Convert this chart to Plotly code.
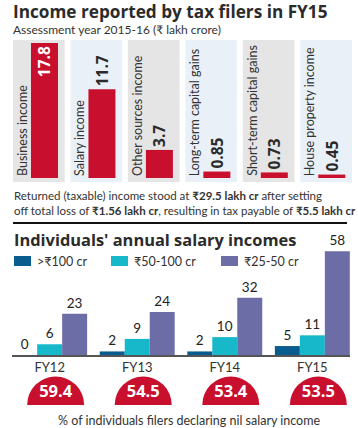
import plotly.graph_objects as go

# ---------------- data ----------------
top_categories = ["Business income", "Salary income", "Other sources income",
                  "Long-term capital gains", "Short-term capital gains", "House property income"]
top_values = [17.8, 11.7, 3.7, 0.85, 0.73, 0.45]

years = ["FY12", "FY13", "FY14", "FY15"]
series_names = [">₹100 cr", "₹50-100 cr", "₹25-50 cr"]
above_100 = [0, 2, 2, 5]
from_50_to_100 = [6, 9, 10, 11]
from_25_to_50 = [23, 24, 32, 58]
nil_salary_pct = [59.4, 54.5, 53.4, 53.5]

# ---------------- style ----------------
W, H = 358, 428
FONT = "Lato"
TFONT = "Open Sans"
DARK = "#2b2b2b"
RED = "#c8102e"
SERIES_COLORS = ["#0b5c8e", "#17b8c9", "#6c6ca6"]
PANEL_COLORS = ["#e5e5e5", "#eaf0f7"]


def px(x):
    return x / W


def py(y):
    return 1 - y / H


PANEL_BOTTOM, PANEL_TOP = -0.53, 18.2
top_idx = list(range(len(top_categories)))
yr_idx = list(range(len(years)))

fig = go.Figure()

# panel backgrounds (top chart)
fig.add_trace(go.Bar(
    x=top_idx, y=[PANEL_TOP - PANEL_BOTTOM] * len(top_idx), base=PANEL_BOTTOM,
    offset=-0.45, width=0.9,
    marker=dict(color=[PANEL_COLORS[i % 2] for i in top_idx], line_width=0),
    xaxis="x", yaxis="y", showlegend=False, hoverinfo="skip"))

# red bars
fig.add_trace(go.Bar(
    x=top_idx, y=top_values, offset=-0.137, width=0.47,
    marker=dict(color=RED, line_width=0),
    text=[f"{v:g}" for v in top_values],
    textposition=["inside"] + ["outside"] * (len(top_values) - 1),
    insidetextanchor="end", textangle=-90, constraintext="none",
    insidetextfont=dict(family=TFONT, size=15.5, color="white", weight="bold"),
    outsidetextfont=dict(family=TFONT, size=15.5, color=DARK, weight="bold"),
    cliponaxis=False, xaxis="x", yaxis="y", showlegend=False))

# bottom grouped bars
for name, vals, col in zip(series_names, [above_100, from_50_to_100, from_25_to_50], SERIES_COLORS):
    fig.add_trace(go.Bar(
        x=yr_idx, y=vals, name=name, marker=dict(color=col, line_width=0),
        text=[str(v) for v in vals], textposition="outside", constraintext="none",
        textfont=dict(family=FONT, size=13.5, color="#222"),
        cliponaxis=False, xaxis="x2", yaxis="y2", showlegend=False))

# half discs
fig.add_trace(go.Scatter(
    x=yr_idx, y=[0] * len(yr_idx), mode="markers",
    marker=dict(size=57, color=RED, line_width=0),
    cliponaxis=True, xaxis="x3", yaxis="y3", showlegend=False, hoverinfo="skip"))
fig.add_trace(go.Scatter(
    x=yr_idx, y=[0.4] * len(yr_idx), mode="text",
    text=[f"{v:.1f}" for v in nil_salary_pct],
    textfont=dict(family=TFONT, size=16.5, color="white", weight="bold"),
    cliponaxis=False, xaxis="x3", yaxis="y3", showlegend=False, hoverinfo="skip"))

annotations = []
# category labels (rotated)
for i, c in zip(top_idx, top_categories):
    annotations.append(dict(
        x=i - 0.285, y=0, xref="x", yref="y", text=c, showarrow=False,
        textangle=-90, xanchor="center", yanchor="bottom",
        font=dict(family=FONT, size=12.5, color="#333")))

annotations += [
    dict(x=px(12), y=py(11.5), xref="paper", yref="paper", xanchor="left", yanchor="middle",
         text="<b>Income reported by tax filers in FY15</b>", showarrow=False, borderpad=0,
         font=dict(family=TFONT, size=17.2, color=DARK)),
    dict(x=px(12), y=py(29.5), xref="paper", yref="paper", xanchor="left", yanchor="middle",
         text="Assessment year 2015-16 (₹ lakh crore)", showarrow=False, borderpad=0,
         font=dict(family=FONT, size=12, color="#333")),
    dict(x=px(12), y=py(196), xref="paper", yref="paper", xanchor="left", yanchor="middle",
         text="Returned (taxable) income stood at <b>₹29.5 lakh cr</b> after setting",
         showarrow=False, font=dict(family=FONT, size=11.5, color="#333")),
    dict(x=px(12), y=py(210), xref="paper", yref="paper", xanchor="left", yanchor="middle",
         text="off total loss of <b>₹1.56 lakh cr</b>, resulting in tax payable of <b>₹5.5 lakh cr</b>",
         showarrow=False, font=dict(family=FONT, size=11.5, color="#333")),
    dict(x=px(12), y=py(240), xref="paper", yref="paper", xanchor="left", yanchor="middle",
         text="<b>Individuals' annual salary incomes</b>", showarrow=False,
         font=dict(family=TFONT, size=16.4, color=DARK)),
    dict(x=px(189), y=py(420), xref="paper", yref="paper", xanchor="center", yanchor="middle",
         text="% of individuals filers declaring nil salary income", showarrow=False,
         font=dict(family=FONT, size=12.5, color="#333")),
]

# custom legend
shapes = [dict(type="line", xref="paper", yref="paper", x0=px(13), x1=px(347),
               y0=py(223), y1=py(223), line=dict(color="#111", width=2))]
legend_x = [14, 111, 221]
for lx, name, col in zip(legend_x, series_names, SERIES_COLORS):
    shapes.append(dict(type="rect", xref="paper", yref="paper",
                       x0=px(lx), x1=px(lx + 17), y0=py(266), y1=py(256),
                       fillcolor=col, line_width=0))
    annotations.append(dict(x=px(lx + 21), y=py(261), xref="paper", yref="paper",
                            xanchor="left", yanchor="middle", text=name, showarrow=False,
                            font=dict(family=FONT, size=12.5, color="#333")))

fig.update_layout(
    width=W, height=H, margin=dict(l=0, r=0, t=0, b=0),
    paper_bgcolor="white", plot_bgcolor="rgba(0,0,0,0)",
    barmode="group", bargap=0.144, bargroupgap=0,
    font=dict(family=FONT),
    xaxis=dict(domain=[px(13), px(352)], range=[-0.45, 5.45], visible=False, fixedrange=True),
    yaxis=dict(domain=[py(182), py(40)], range=[PANEL_BOTTOM, PANEL_TOP], visible=False),
    xaxis2=dict(domain=[px(12), px(350)], range=[-0.43, 3.43], anchor="y2",
                tickvals=yr_idx, ticktext=years, showline=True, linecolor="#555", linewidth=1.5,
                ticks="", showgrid=False, zeroline=False,
                tickfont=dict(family=FONT, size=13, color="#333")),
    yaxis2=dict(domain=[py(355), py(240)], range=[0, 115 / 1.79], visible=False),
    xaxis3=dict(domain=[px(18), px(356)], range=[-0.43, 3.43], anchor="y3", visible=False),
    yaxis3=dict(domain=[py(405), py(374)], range=[0, 1], visible=False),
    annotations=annotations, shapes=shapes, showlegend=False,
)

fig.write_html("out.html", config={"displayModeBar": False},
               post_script="document.body.style.margin='0px';")
